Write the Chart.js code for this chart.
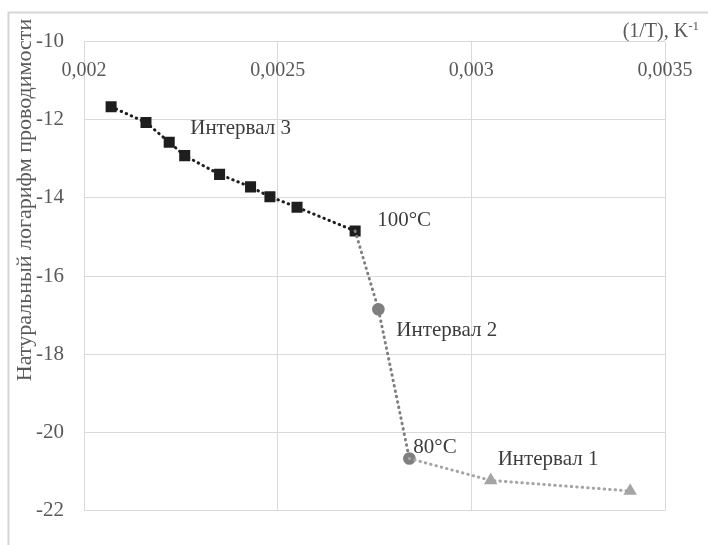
<!DOCTYPE html>
<html>
<head>
<meta charset="utf-8">
<script src="https://cdn.jsdelivr.net/npm/chart.js@4/dist/chart.umd.min.js"></script>
<style>
  html, body { margin: 0; padding: 0; background: #ffffff; }
  canvas { display: block; }
</style>
</head>
<body>
<canvas id="chart" width="708" height="545"></canvas>
<script>
// ln(conductivity) against reciprocal temperature, split into three intervals
const interval3X = [0.00207, 0.00216, 0.00222, 0.00226, 0.00235, 0.00243, 0.00248, 0.00255, 0.00270];
const interval3Y = [-11.67, -12.07, -12.58, -12.92, -13.40, -13.72, -13.97, -14.24, -14.85];
const interval2X = [0.00270, 0.00276, 0.00284];
const interval2Y = [-14.85, -16.85, -20.67];
const interval1X = [0.00284, 0.00305, 0.00341];
const interval1Y = [-20.67, -21.23, -21.50];

const xTickValues = [0.002, 0.0025, 0.003, 0.0035];
const xTickLabels = ['0,002', '0,0025', '0,003', '0,0035'];
const yTickValues = [-22, -20, -18, -16, -14, -12, -10];
const yTickLabels = ['-22', '-20', '-18', '-16', '-14', '-12', '-10'];

const xAxisTitle = '(1/T), K';
const xAxisTitleSup = '-1';
const yAxisTitle = 'Натуральный логарифм проводимости';

// Text notes attached to points: dataset index, point index, pixel offset
const notes = [
  { text: 'Интервал 3', ds: 0, pt: 2, dx: 21, dy: -14 },
  { text: '100°C',      ds: 0, pt: 8, dx: 22, dy: -11 },
  { text: 'Интервал 2', ds: 1, pt: 1, dx: 18, dy: 21 },
  { text: '80°C',       ds: 1, pt: 2, dx: 4,  dy: -11 },
  { text: 'Интервал 1', ds: 2, pt: 1, dx: 7,  dy: -21 }
];

const toPoints = (xs, ys) => xs.map((x, i) => ({ x: x, y: ys[i] }));
const serif = "'Liberation Serif', 'Times New Roman', serif";
const axisGrey = '#595959';

function labelFor(values, labels, v) {
  const i = values.findIndex(t => Math.abs(t - v) < 1e-9);
  return i >= 0 ? labels[i] : '';
}

const framePlugin = {
  id: 'frame',
  beforeDraw(chart) {
    const ctx = chart.ctx;
    ctx.save();
    ctx.fillStyle = '#ffffff';
    ctx.fillRect(0, 0, chart.width, chart.height);
    ctx.strokeStyle = '#d6d6d6';
    ctx.lineWidth = 2;
    ctx.beginPath();
    ctx.moveTo(chart.width, 12.5);
    ctx.lineTo(8.5, 12.5);
    ctx.lineTo(8.5, chart.height);
    ctx.stroke();
    ctx.restore();
  }
};

const textPlugin = {
  id: 'texts',
  afterDatasetsDraw(chart) {
    const ctx = chart.ctx;
    const area = chart.chartArea;
    ctx.save();

    // notes next to the points
    ctx.font = '21px ' + serif;
    ctx.fillStyle = '#3c3c3c';
    ctx.textAlign = 'left';
    ctx.textBaseline = 'middle';
    notes.forEach(n => {
      const el = chart.getDatasetMeta(n.ds).data[n.pt];
      ctx.fillText(n.text, el.x + n.dx, el.y + n.dy);
    });

    // x axis title with superscript
    ctx.fillStyle = axisGrey;
    ctx.font = '13px ' + serif;
    const supW = ctx.measureText(xAxisTitleSup).width;
    ctx.font = '20px ' + serif;
    const mainW = ctx.measureText(xAxisTitle).width;
    const right = area.right + 34;
    ctx.textBaseline = 'alphabetic';
    ctx.fillText(xAxisTitle, right - supW - mainW, 37);
    ctx.font = '13px ' + serif;
    ctx.fillText(xAxisTitleSup, right - supW, 30);

    // y axis title, rotated
    ctx.font = '22px ' + serif;
    ctx.textAlign = 'center';
    ctx.textBaseline = 'middle';
    ctx.translate(25, 200);
    ctx.rotate(-Math.PI / 2);
    ctx.fillText(yAxisTitle, 0, 0);
    ctx.restore();
  }
};

new Chart(document.getElementById('chart'), {
  type: 'scatter',
  data: {
    datasets: [
      {
        label: 'Интервал 3',
        data: toPoints(interval3X, interval3Y),
        showLine: true,
        borderColor: '#1e1e1e',
        borderWidth: 3,
        borderDash: [0.5, 5],
        borderCapStyle: 'round',
        pointStyle: 'rect',
        pointRadius: 7.8,
        pointBackgroundColor: '#1e1e1e',
        pointBorderWidth: 0,
        order: 3
      },
      {
        label: 'Интервал 2',
        data: toPoints(interval2X, interval2Y),
        showLine: true,
        borderColor: '#7f7f7f',
        borderWidth: 3,
        borderDash: [0.5, 5],
        borderCapStyle: 'round',
        pointStyle: 'circle',
        pointRadius: [0, 6.3, 6.3],
        pointBackgroundColor: '#7f7f7f',
        pointBorderWidth: 0,
        order: 2
      },
      {
        label: 'Интервал 1',
        data: toPoints(interval1X, interval1Y),
        showLine: true,
        borderColor: '#a5a5a5',
        borderWidth: 3,
        borderDash: [0.5, 5],
        borderCapStyle: 'round',
        pointStyle: 'triangle',
        pointRadius: [0, 7.8, 7.8],
        pointBackgroundColor: '#a5a5a5',
        pointBorderWidth: 0,
        order: 1
      }
    ]
  },
  options: {
    responsive: false,
    animation: false,
    devicePixelRatio: 1,
    layout: { padding: { left: 0, top: 0, right: 43, bottom: 34.5 } },
    plugins: {
      legend: { display: false },
      tooltip: { enabled: false }
    },
    scales: {
      x: {
        type: 'linear',
        position: 'top',
        min: 0.002,
        max: 0.0035,
        afterBuildTicks: s => { s.ticks = xTickValues.map(v => ({ value: v })); },
        afterFit: s => { s.height = 41.5; s.paddingLeft = 0; s.paddingRight = 0; },
        grid: { color: '#d9d9d9', lineWidth: 1, drawTicks: false },
        border: { display: false },
        ticks: {
          mirror: true,
          padding: 17.5,
          maxRotation: 0,
          autoSkip: false,
          color: axisGrey,
          font: { family: serif, size: 20 },
          callback: v => labelFor(xTickValues, xTickLabels, v)
        }
      },
      y: {
        type: 'linear',
        min: -22,
        max: -10,
        afterBuildTicks: s => { s.ticks = yTickValues.map(v => ({ value: v })); },
        afterFit: s => { s.width = 84; s.paddingTop = 0; s.paddingBottom = 0; },
        grid: { color: '#d9d9d9', lineWidth: 1, drawTicks: false },
        border: { display: false },
        ticks: {
          padding: 20,
          color: axisGrey,
          font: { family: serif, size: 21 },
          callback: v => labelFor(yTickValues, yTickLabels, v)
        }
      }
    }
  },
  plugins: [framePlugin, textPlugin]
});
</script>
</body>
</html>
